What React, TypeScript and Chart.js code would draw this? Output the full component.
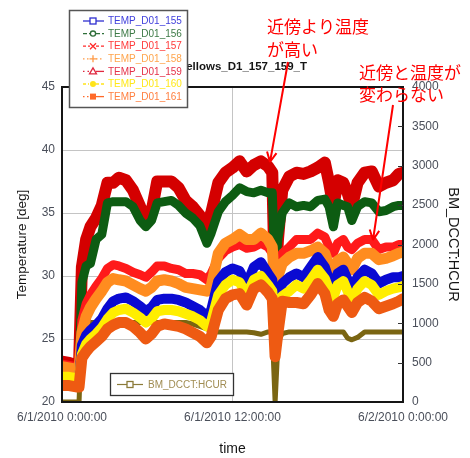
import React, { useEffect, useRef } from "react";
import { Chart, registerables } from "chart.js";

Chart.register(...registerables);

const hours = [0, 0.5, 1.0, 1.2, 1.4, 1.7, 2.0, 2.4, 2.8, 3.2, 3.6, 4.0, 4.5, 5.0, 5.5, 5.9, 6.3, 6.7, 7.2, 7.7, 8.2, 8.7, 9.2, 9.7, 10.2, 10.5, 11.0, 11.5, 12.0, 12.5,
  13.0, 13.5, 14.0, 14.5, 14.8, 15.0, 15.2, 15.5, 16.0, 16.5, 17.0, 17.5, 18.0, 18.5, 18.8, 19.1, 19.4, 19.8, 20.1, 20.4, 20.8, 21.3, 21.8, 22.3, 22.8, 23.3, 23.7, 24.0];

const xTickValues = [0, 12, 24];
const xTickLabels = ["6/1/2010 0:00:00", "6/1/2010 12:00:00", "6/2/2010 0:00:00"];

const temp155 = [21.7, 21.7, 21.6, 21.6, 24.5, 25.3, 25.7, 26.1, 26.6, 27.4, 28.0, 28.2, 28.3, 28.0, 27.6, 27.2, 27.5, 28.1, 28.2, 28.2, 28.1, 27.9, 27.6, 27.3, 26.8, 27.3, 29.6, 30.3, 30.6, 30.4,
  29.3, 30.7, 31.1, 30.2, 29.7, 27.0, 28.0, 29.4, 29.9, 30.2, 29.9, 30.7, 31.5, 30.7, 29.7, 29.2, 30.2, 30.5, 29.7, 28.9, 29.9, 30.5, 30.2, 29.4, 29.7, 29.9, 29.9, 30.0];
const temp156 = [22.4, 22.4, 22.3, 22.3, 29.5, 30.8, 31.0, 32.9, 33.3, 35.8, 35.9, 35.9, 35.9, 35.5, 34.4, 33.9, 34.4, 35.8, 35.9, 36.0, 35.6, 35.0, 34.6, 34.0, 32.6, 33.4, 35.1, 35.9, 36.4, 37.0,
  36.7, 36.6, 36.8, 36.6, 36.6, 30.5, 33.0, 35.0, 35.8, 35.5, 35.6, 35.5, 36.0, 36.1, 35.5, 33.9, 35.8, 35.6, 35.5, 34.4, 35.5, 35.9, 35.8, 35.1, 35.2, 35.5, 35.6, 35.6];
const temp157 = [23.0, 22.9, 22.8, 22.8, 26.5, 27.8, 28.5, 29.2, 29.8, 30.6, 30.9, 30.8, 30.6, 30.3, 30.1, 29.9, 30.3, 30.8, 30.8, 30.6, 30.5, 30.2, 30.2, 30.1, 29.7, 30.2, 31.4, 32.0, 32.3, 32.5,
  32.2, 32.3, 32.6, 32.3, 31.8, 28.0, 29.5, 31.8, 32.3, 32.9, 32.9, 32.9, 33.4, 33.1, 32.3, 31.8, 32.6, 32.9, 32.3, 32.1, 32.6, 32.9, 32.9, 32.1, 32.3, 32.3, 32.5, 32.5];
const temp158 = [22.8, 22.7, 22.6, 22.6, 25.5, 26.8, 27.5, 28.2, 28.8, 29.5, 29.8, 29.7, 29.6, 29.3, 29.0, 28.8, 29.1, 29.6, 29.7, 29.6, 29.4, 29.1, 29.0, 28.9, 28.8, 29.2, 31.8, 32.6, 32.9, 33.3,
  32.9, 32.9, 33.4, 32.9, 32.3, 28.5, 30.0, 31.0, 31.5, 31.8, 31.8, 32.0, 32.3, 31.8, 30.8, 30.0, 31.2, 31.5, 31.0, 30.5, 31.4, 31.8, 31.8, 31.3, 31.4, 31.6, 31.8, 31.9];
const temp159 = [23.2, 23.1, 22.9, 22.9, 30.7, 32.9, 33.9, 34.6, 35.6, 37.4, 37.4, 37.8, 37.6, 36.8, 35.5, 34.6, 35.1, 37.5, 37.5, 37.5, 37.0, 36.0, 35.5, 34.8, 33.8, 35.0, 37.4, 38.2, 38.6, 39.1,
  38.3, 38.8, 39.1, 38.7, 38.2, 28.5, 32.9, 36.8, 37.9, 38.2, 38.1, 38.3, 38.6, 39.0, 37.4, 35.5, 37.6, 37.4, 36.6, 35.5, 37.4, 38.2, 38.3, 37.1, 37.4, 37.6, 38.1, 38.2];
const temp160 = [22.0, 22.0, 21.9, 21.9, 23.8, 24.6, 25.0, 25.4, 25.9, 26.6, 27.1, 27.3, 27.4, 27.1, 26.7, 26.3, 26.6, 27.2, 27.3, 27.3, 27.2, 27.0, 26.8, 26.5, 26.0, 26.4, 28.5, 29.3, 29.7, 29.5,
  28.5, 29.7, 30.0, 29.3, 28.8, 26.5, 27.0, 28.4, 28.8, 29.3, 29.0, 29.7, 30.5, 29.8, 28.9, 28.3, 29.3, 29.6, 28.8, 28.0, 29.0, 29.6, 29.3, 28.5, 28.8, 29.0, 29.1, 29.2];
const temp161 = [21.3, 21.3, 21.2, 21.2, 23.5, 24.0, 24.4, 24.8, 25.2, 25.8, 26.1, 26.3, 26.3, 26.0, 25.5, 25.0, 25.4, 26.0, 26.2, 26.1, 26.0, 25.8, 25.5, 25.2, 24.7, 25.2, 27.3, 28.2, 28.5, 28.6,
  27.7, 29.0, 29.3, 28.7, 28.2, 23.6, 25.5, 28.0, 27.9, 27.9, 27.8, 28.5, 29.4, 28.6, 27.3, 26.8, 27.8, 28.1, 27.6, 27.1, 27.9, 28.3, 28.0, 27.4, 27.6, 27.8, 28.0, 28.2];
const bmDcct = [0, 0, 0, 0, 1010, 1010, 1010, 1010, 1010, 1010, 1010, 1010, 1010, 1010, 1010, 1010, 1010, 1010, 1010, 1010, 1010, 1010, 990, 960, 930, 900, 890, 890, 890, 890,
  890, 880, 860, 890, 890, 0, 760, 870, 890, 890, 890, 890, 890, 890, 890, 890, 890, 890, 810, 790, 820, 890, 890, 890, 890, 890, 890, 890];

const chartTitle = "Bellows_D1_157_159_T";
const yTitle = "Temperature [deg]";
const y2Title = "BM_DCCT:HCUR";
const xTitle = "time";
const note1 = ["近傍より温度", "が高い"];
const note2 = ["近傍と温度が", "変わらない"];

const FONT = "'Liberation Sans', Arial, sans-serif";
const TICK_COLOR = "#4a4f5a";

type LegendItem = { name: string; color: string; text: string; dashL: number[]; dashR: number[]; marker: string };
const legendItems: LegendItem[] = [
  { name: "TEMP_D01_155", color: "#2f2fd0", text: "#4040dc", dashL: [], dashR: [], marker: "squareOpen" },
  { name: "TEMP_D01_156", color: "#2f6f3a", text: "#3d7a46", dashL: [4, 2], dashR: [4, 2], marker: "circleOpen" },
  { name: "TEMP_D01_157", color: "#ff2a2a", text: "#ff3a3a", dashL: [3, 2], dashR: [3, 2], marker: "cross" },
  { name: "TEMP_D01_158", color: "#ff9a45", text: "#ffa54d", dashL: [1.5, 2.5], dashR: [1.5, 2.5], marker: "plus" },
  { name: "TEMP_D01_159", color: "#e02840", text: "#e4314a", dashL: [1.5, 3], dashR: [], marker: "triangle" },
  { name: "TEMP_D01_160", color: "#ffe41a", text: "#ffe81a", dashL: [3, 2, 1, 2], dashR: [3, 2], marker: "circle" },
  { name: "TEMP_D01_161", color: "#ff6a2a", text: "#ff7f3f", dashL: [1.5, 2.5], dashR: [], marker: "square" },
];

function drawMarker(ctx: CanvasRenderingContext2D, kind: string, x: number, y: number, color: string) {
  ctx.save();
  ctx.setLineDash([]);
  ctx.strokeStyle = color;
  ctx.fillStyle = color;
  ctx.lineWidth = 1.3;
  ctx.beginPath();
  switch (kind) {
    case "squareOpen":
      ctx.fillStyle = "#fff";
      ctx.fillRect(x - 3, y - 3, 6, 6);
      ctx.strokeRect(x - 3, y - 3, 6, 6);
      break;
    case "circleOpen":
      ctx.arc(x, y, 2.6, 0, Math.PI * 2);
      ctx.fillStyle = "#fff";
      ctx.fill();
      ctx.stroke();
      break;
    case "cross":
      ctx.moveTo(x - 3, y - 3); ctx.lineTo(x + 3, y + 3);
      ctx.moveTo(x + 3, y - 3); ctx.lineTo(x - 3, y + 3);
      ctx.stroke();
      break;
    case "plus":
      ctx.moveTo(x - 3.5, y); ctx.lineTo(x + 3.5, y);
      ctx.moveTo(x, y - 3.5); ctx.lineTo(x, y + 3.5);
      ctx.stroke();
      break;
    case "triangle":
      ctx.moveTo(x, y - 3.5); ctx.lineTo(x + 3.5, y + 2.5); ctx.lineTo(x - 3.5, y + 2.5); ctx.closePath();
      ctx.fillStyle = "#fff";
      ctx.fill();
      ctx.stroke();
      break;
    case "circle":
      ctx.arc(x, y, 3, 0, Math.PI * 2);
      ctx.fill();
      break;
    case "square":
      ctx.fillRect(x - 3, y - 3, 6, 6);
      break;
  }
  ctx.restore();
}

function drawArrow(ctx: CanvasRenderingContext2D, x1: number, y1: number, x2: number, y2: number) {
  ctx.beginPath();
  ctx.moveTo(x1, y1);
  ctx.lineTo(x2, y2);
  const ang = Math.atan2(y2 - y1, x2 - x1);
  const len = 11;
  const spread = 0.45;
  ctx.moveTo(x2, y2);
  ctx.lineTo(x2 - len * Math.cos(ang - spread), y2 - len * Math.sin(ang - spread));
  ctx.moveTo(x2, y2);
  ctx.lineTo(x2 - len * Math.cos(ang + spread), y2 - len * Math.sin(ang + spread));
  ctx.stroke();
}

const decorPlugin = {
  id: "decor",
  afterDraw(chart: any) {
    const { ctx, chartArea: a } = chart;
    ctx.save();
    // frame
    ctx.setLineDash([]);
    ctx.strokeStyle = "#151515";
    ctx.lineWidth = 2;
    ctx.strokeRect(a.left, a.top, a.right - a.left, a.bottom - a.top);
    // inner ticks of right axis
    const y2s = chart.scales.y2;
    ctx.lineWidth = 1;
    ctx.strokeStyle = "#333";
    for (let v = 500; v < 4000; v += 500) {
      const py = Math.round(y2s.getPixelForValue(v)) + 0.5;
      ctx.beginPath();
      ctx.moveTo(a.right - 5, py);
      ctx.lineTo(a.right, py);
      ctx.stroke();
    }
    // title
    ctx.font = `bold 11.5px ${FONT}`;
    ctx.fillStyle = "#151515";
    ctx.textAlign = "right";
    ctx.textBaseline = "alphabetic";
    ctx.fillText(chartTitle, 307, 70);

    // main legend
    ctx.fillStyle = "#fff";
    ctx.fillRect(69, 10, 118, 97);
    ctx.strokeStyle = "#555";
    ctx.lineWidth = 1.5;
    ctx.strokeRect(69.5, 10.5, 118, 97);
    ctx.font = `10px ${FONT}`;
    ctx.textAlign = "left";
    ctx.textBaseline = "middle";
    legendItems.forEach((it, i) => {
      const y = 21 + i * 12.6;
      ctx.strokeStyle = it.color;
      ctx.lineWidth = 1.3;
      ctx.setLineDash(it.dashL);
      ctx.beginPath();
      ctx.moveTo(83, y);
      ctx.lineTo(90, y);
      ctx.stroke();
      ctx.setLineDash(it.dashR);
      ctx.beginPath();
      ctx.moveTo(96, y);
      ctx.lineTo(104, y);
      ctx.stroke();
      ctx.setLineDash([]);
      drawMarker(ctx, it.marker, 93, y, it.color);
      ctx.fillStyle = it.text;
      ctx.fillText(it.name, 108, y + 0.5);
    });

    // BM legend
    ctx.fillStyle = "#fff";
    ctx.fillRect(110, 373, 123, 22);
    ctx.strokeStyle = "#333";
    ctx.lineWidth = 1.3;
    ctx.strokeRect(110.5, 373.5, 123, 22);
    ctx.strokeStyle = "#8a7a38";
    ctx.lineWidth = 1.2;
    ctx.beginPath();
    ctx.moveTo(117, 384.5);
    ctx.lineTo(143, 384.5);
    ctx.stroke();
    drawMarker(ctx, "squareOpen", 130, 384.5, "#8a7a38");
    ctx.fillStyle = "#a08c52";
    ctx.font = `10px ${FONT}`;
    ctx.fillText(y2Title, 148, 385);

    // annotations
    ctx.fillStyle = "#ff0000";
    ctx.strokeStyle = "#ff0000";
    ctx.font = `17px 'Noto Sans CJK JP', sans-serif`;
    ctx.textAlign = "left";
    ctx.textBaseline = "middle";
    ctx.fillText(note1[0], 267, 27);
    ctx.fillText(note1[1], 267, 50);
    ctx.fillText(note2[0], 359, 73);
    ctx.fillText(note2[1], 359, 95);
    ctx.lineWidth = 2;
    drawArrow(ctx, 288, 62, 270, 162);
    drawArrow(ctx, 393, 105, 373, 240);
    ctx.restore();
  },
};

function mk(label: string, values: number[], color: string, width: number, order: number, axis = "y") {
  return {
    label,
    data: hours.map((h, i) => ({ x: h, y: values[i] })),
    borderColor: color,
    backgroundColor: color,
    borderWidth: width,
    pointRadius: 0,
    fill: false,
    order,
    yAxisID: axis,
  };
}

export default function App() {
  const ref = useRef<HTMLCanvasElement | null>(null);
  useEffect(() => {
    if (!ref.current) return;
    const chart = new Chart(ref.current, {
      type: "line",
      data: {
        datasets: [
          mk("TEMP_D01_161", temp161, "#ee5a12", 11, 1),
          mk("TEMP_D01_160", temp160, "#ffee00", 10, 2),
          mk("TEMP_D01_155", temp155, "#0a0ad2", 10, 3),
          mk("TEMP_D01_158", temp158, "#ff8c1f", 11, 4),
          mk("TEMP_D01_157", temp157, "#ff1a1a", 9, 5),
          mk("TEMP_D01_156", temp156, "#0d5c12", 9, 6),
          mk("TEMP_D01_159", temp159, "#d40000", 12, 7),
          mk("BM_DCCT:HCUR", bmDcct, "#7a6512", 5, 8, "y2"),
        ],
      },
      options: {
        animation: false,
        responsive: false,
        layout: { padding: { top: 87, left: 0, right: 0, bottom: 0 } },
        elements: { line: { tension: 0, borderJoinStyle: "round", borderCapStyle: "round" } },
        plugins: { legend: { display: false }, tooltip: { enabled: false }, title: { display: false } },
        scales: {
          x: {
            type: "linear",
            min: 0,
            max: 24,
            afterFit: (s: any) => { s.height = 56; },
            ticks: {
              stepSize: 12,
              autoSkip: false,
              maxRotation: 0,
              padding: 8,
              color: TICK_COLOR,
              font: { size: 12, family: FONT },
              callback: (v: any) => {
                const i = xTickValues.indexOf(Number(v));
                return i >= 0 ? xTickLabels[i] : "";
              },
            },
            grid: { color: "#c4c4c4", lineWidth: 1, drawTicks: false },
            border: { display: false },
            title: { display: true, text: xTitle, color: "#151515", font: { size: 14, family: FONT }, padding: 0 },
          },
          y: {
            position: "left",
            min: 20,
            max: 45,
            afterFit: (s: any) => { s.width = 62; },
            ticks: { stepSize: 5, padding: 7, color: TICK_COLOR, font: { size: 12, family: FONT }, callback: (v: any) => String(v) },
            grid: { color: "#c4c4c4", lineWidth: 1, drawTicks: false },
            border: { display: false },
            title: { display: true, text: yTitle, color: "#151515", font: { size: 13.5, family: FONT }, padding: { top: 14, bottom: 0 } },
          },
          y2: {
            position: "right",
            min: 0,
            max: 4000,
            afterFit: (s: any) => { s.width = 67; },
            ticks: { stepSize: 500, padding: 9, color: TICK_COLOR, font: { size: 12, family: FONT }, callback: (v: any) => String(v) },
            grid: { drawOnChartArea: false, drawTicks: false },
            border: { display: false },
            title: { display: true, text: y2Title, color: "#151515", font: { size: 14.5, family: FONT }, padding: { top: 8.3, bottom: 0 } },
          },
        },
      },
      plugins: [decorPlugin],
    } as any);
    return () => chart.destroy();
  }, []);
  return (
    <div style={{ position: "fixed", left: 0, top: 0, width: 470, height: 458, background: "#fff" }}>
      <canvas ref={ref} width={470} height={458} style={{ display: "block", width: 470, height: 458 }} />
    </div>
  );
}
